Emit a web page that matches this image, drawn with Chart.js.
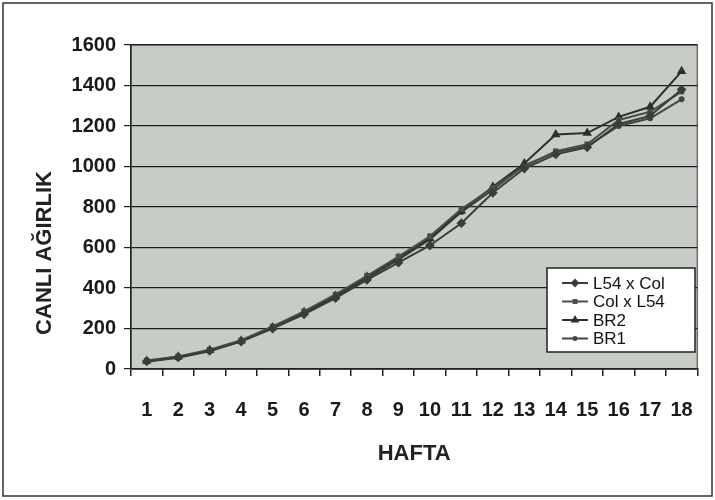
<!DOCTYPE html>
<html>
<head>
<meta charset="utf-8">
<script src="https://cdn.jsdelivr.net/npm/chart.js@4/dist/chart.umd.min.js"></script>
<style>
  body { margin: 0; background: #fff; }
  #wrap { width: 715px; height: 500px; }
</style>
</head>
<body>
<div id="wrap"><canvas id="graph" width="715" height="500"></canvas></div>
<script>
// haftalar
var weeks = ['1','2','3','4','5','6','7','8','9','10','11','12','13','14','15','16','17','18'];
// seriler (okunan degerler)
var l54xCol = [38, 58, 90, 135, 200, 270, 350, 440, 525, 610, 720, 870, 990, 1060, 1095, 1210, 1250, 1380];
var colxL54 = [42, 62, 95, 142, 210, 285, 368, 460, 555, 655, 790, 895, 1000, 1075, 1110, 1230, 1270, 1370];
var br2 = [40, 60, 92, 140, 205, 280, 360, 455, 548, 645, 780, 900, 1015, 1158, 1165, 1245, 1295, 1470];
var br1 = [36, 56, 88, 138, 203, 275, 355, 448, 540, 640, 775, 885, 1005, 1070, 1100, 1200, 1238, 1332];
var yTicks = [0, 200, 400, 600, 800, 1000, 1200, 1400, 1600];

var FONT = "'Liberation Sans', Arial, sans-serif";

var drawGraph = function(){
  var ctx = document.getElementById('graph').getContext('2d');

  var mk = function(label, data, color, style, r){
    return {
      label: label, data: data,
      fill: false,
      borderColor: color, backgroundColor: color,
      borderWidth: 2,
      lineTension: 0,
      pointStyle: style, pointRadius: r,
      pointBorderColor: color, pointBackgroundColor: color
    };
  };

  var datasets = [
    mk('L54 x Col', l54xCol, '#3b3e38', 'rectRot', 3.5),
    mk('Col x L54', colxL54, '#4a4e46', 'rect', 2.5),
    mk('BR2', br2, '#2e302c', 'triangle', 3.5),
    mk('BR1', br1, '#44473f', 'circle', 2)
  ];

  // cizim alani, cerceve, y basligi, legend
  var decor = {
    id: 'decor',
    beforeDraw: function(chart){
      var c = chart.ctx, a = chart.chartArea;
      c.save();
      c.fillStyle = '#fff';
      c.fillRect(0, 0, chart.width, chart.height);
      c.strokeStyle = '#333';
      c.lineWidth = 1.5;
      c.strokeRect(3, 3, 709, 493);
      c.fillStyle = '#c8ccc7';
      c.fillRect(a.left, a.top, a.right - a.left, a.bottom - a.top);
      c.strokeStyle = '#6a6d68';
      c.lineWidth = 1.5;
      c.strokeRect(a.left, a.top, a.right - a.left, a.bottom - a.top);
      c.restore();
    },
    afterDraw: function(chart){
      var c = chart.ctx;
      c.save();
      // y ekseni basligi
      c.translate(45, 253);
      c.rotate(-Math.PI / 2);
      c.fillStyle = '#222';
      c.font = 'bold 22px ' + FONT;
      c.textAlign = 'center';
      c.textBaseline = 'middle';
      c.fillText('CANLI AĞIRLIK', 0, 0);
      c.restore();

      // legend kutusu
      c.save();
      c.fillStyle = '#fff';
      c.fillRect(547, 268, 148, 84);
      c.strokeStyle = '#222';
      c.lineWidth = 1.5;
      c.strokeRect(547, 268, 148, 84);
      c.font = '17px ' + FONT;
      c.textBaseline = 'middle';
      chart.data.datasets.forEach(function(ds, i){
        var y = 283 + i * 18.5;
        c.strokeStyle = ds.borderColor;
        c.lineWidth = 2;
        c.beginPath(); c.moveTo(562, y); c.lineTo(588, y); c.stroke();
        c.fillStyle = ds.borderColor;
        Chart.helpers.drawPoint(c, {pointStyle: ds.pointStyle, radius: ds.pointRadius - 0.5, rotation: 0, borderWidth: 1}, 575, y);
        c.fillStyle = '#111';
        c.fillText(ds.label, 593, y + 1);
      });
      c.restore();
    }
  };

  var option = {
    animation: false,
    responsive: false,
    layout: { padding: { top: 45, right: 10, left: 0, bottom: 0 } },
    plugins: { legend: { display: false }, tooltip: { enabled: false } },
    scales: {
      x: {
        offset: true,
        afterFit: function(s){ s.height = 131; },
        grid: { offset: true, drawOnChartArea: false, drawTicks: true, tickLength: 7, color: '#222', lineWidth: 1.5 },
        border: { color: '#222', width: 1.5 },
        ticks: { color: '#1a1a1a', padding: 22, font: { family: FONT, size: 20, weight: 'bold' }, maxRotation: 0, autoSkip: false },
        title: { display: true, text: 'HAFTA', color: '#222', font: { family: FONT, size: 22, weight: 'bold' }, padding: { top: 0, bottom: 33 } }
      },
      y: {
        min: 0, max: 1600,
        afterFit: function(s){ s.width = 131; },
        afterBuildTicks: function(s){ s.ticks = yTicks.map(function(v){ return { value: v }; }); },
        grid: { color: '#1e1e1e', lineWidth: 1.2, tickLength: 7 },
        border: { color: '#222', width: 1.5 },
        ticks: { color: '#1a1a1a', padding: 8, font: { family: FONT, size: 20, weight: 'bold' },
                 callback: function(v){ return String(v); } }
      }
    }
  };

  var config = {
    type: 'line',
    data: { labels: weeks, datasets: datasets },
    options: option,
    plugins: [decor]
  };
  var myChart = new Chart(ctx, config);
};

window.onload = function(){
  drawGraph();
};
</script>
</body>
</html>
